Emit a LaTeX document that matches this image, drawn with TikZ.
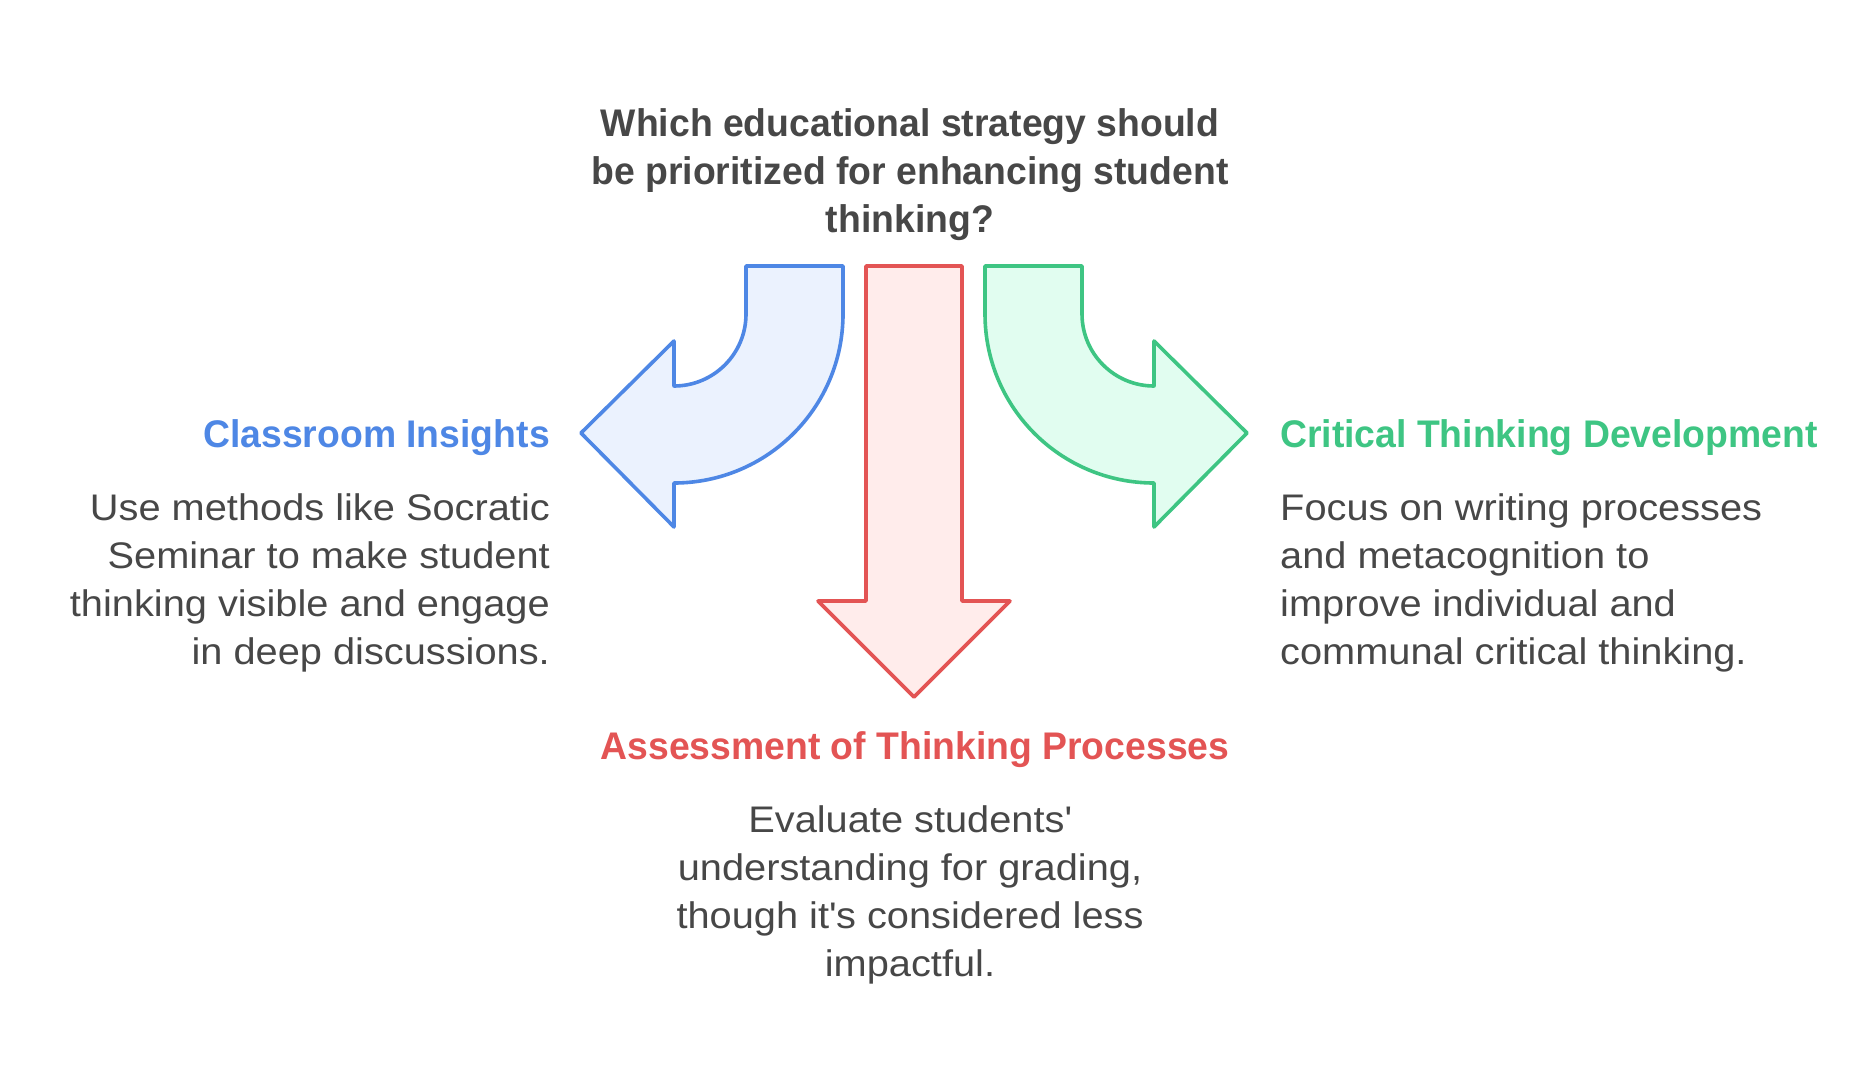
\documentclass[tikz,border=0pt]{standalone}
\usepackage{fontspec}
\setmainfont{Liberation Sans}
\newfontfamily\regfont{Liberation Sans}[FakeStretch=1.075]
\newfontfamily\boldfont{Liberation Sans Bold}[FakeStretch=0.97]
\definecolor{txt}{HTML}{474747}
\definecolor{bstroke}{HTML}{4E87E5}
\definecolor{bfill}{HTML}{EBF2FE}
\definecolor{rstroke}{HTML}{E35454}
\definecolor{rfill}{HTML}{FFECEB}
\definecolor{gstroke}{HTML}{3EC583}
\definecolor{gfill}{HTML}{E1FDF0}
\tikzset{
  arrowshape/.style={line width=3.6pt, line join=round},
  bodytext/.style={inner sep=0pt, text=txt, font=\regfont\fontsize{37}{48}\selectfont},
  headtext/.style={inner sep=0pt, font=\boldfont\fontsize{38.5}{48}\selectfont},
}
\begin{document}
\begin{tikzpicture}[x=1pt,y=-1pt]
\useasboundingbox (0,0) rectangle (1876,1084);
% arrows
\draw[arrowshape, draw=bstroke, fill=bfill] (746,266) -- (843,266) -- (843,314)
  arc[start angle=0,end angle=-90,radius=169pt] -- (674,527) -- (581,433) -- (674,341) -- (674,386)
  arc[start angle=-90,end angle=0,radius=72pt] -- cycle;
\draw[arrowshape, draw=rstroke, fill=rfill] (866,266) -- (962,266) -- (962,601) -- (1010,601)
  -- (914,697) -- (818,601) -- (866,601) -- cycle;
\draw[arrowshape, draw=gstroke, fill=gfill] (985,266) -- (1082,266) -- (1082,314)
  arc[start angle=180,end angle=270,radius=72pt] -- (1154,341) -- (1247,433) -- (1154,527) -- (1154,483)
  arc[start angle=270,end angle=180,radius=169pt] -- cycle;
% title
\node[headtext, text=txt, align=center] (title) at (910,174.5)
  {Which educational strategy should\\be prioritized for enhancing student\\thinking?};
% left
\node[headtext, text=bstroke, anchor=east] (lhead) at (550,438) {Classroom Insights};
\node[bodytext, align=right, anchor=east] (lbody) at (550,583)
  {Use methods like Socratic\\Seminar to make student\\thinking visible and engage\\in deep discussions.};
% right
\node[headtext, text=gstroke, anchor=west] (rhead) at (1280,438) {Critical Thinking Development};
\node[bodytext, align=left, anchor=west] (rbody) at (1280,583)
  {Focus on writing processes\\and metacognition to\\improve individual and\\communal critical thinking.};
% bottom
\node[headtext, text=rstroke] (bhead) at (915,750) {Assessment of Thinking Processes};
\node[bodytext, align=center] (bbody) at (910,895)
  {Evaluate students\textquotesingle\\understanding for grading,\\though it\textquotesingle s considered less\\impactful.};
\end{tikzpicture}
\end{document}
